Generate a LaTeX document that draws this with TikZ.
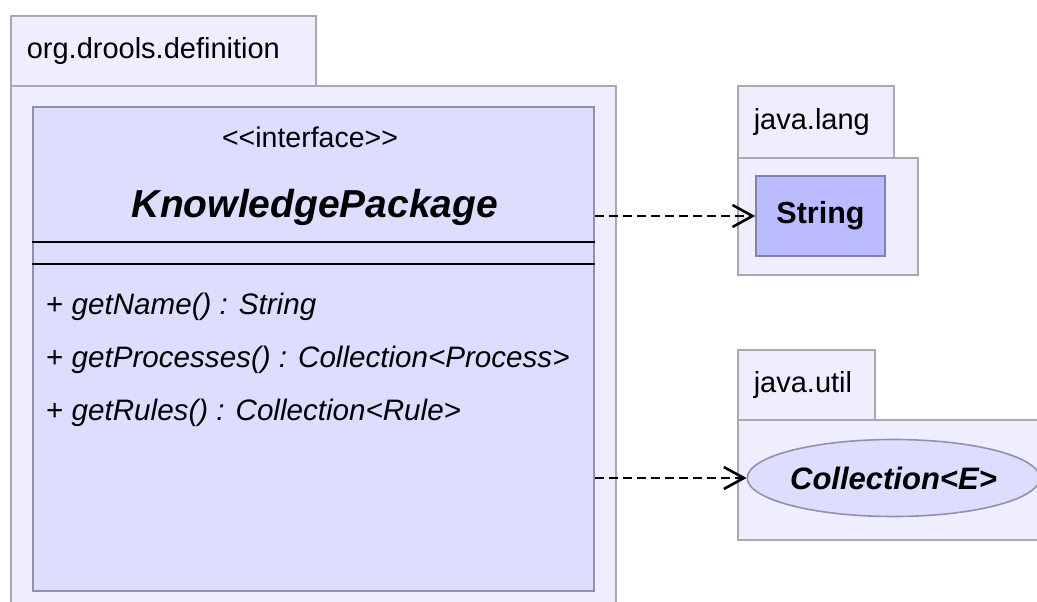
\documentclass[tikz,border=0pt]{standalone}
\usepackage{fontspec}
\setmainfont{Liberation Sans}
\usetikzlibrary{shapes.geometric}
\usetikzlibrary{arrows.meta}
\usepackage{xcolor}
\definecolor{pkgfill}{RGB}{238,238,255}
\definecolor{pkgline}{RGB}{168,168,178}
\definecolor{clsfill}{RGB}{221,221,255}
\definecolor{clsline}{RGB}{145,145,170}
\definecolor{strfill}{RGB}{187,187,255}
\definecolor{strline}{RGB}{128,128,180}

\begin{document}
\begin{tikzpicture}[x=1pt, y=-1pt]
        % ================= 样式定义 =================
        \tikzset{
            % 包: 标签页 + 主体
            pkgtab/.style={rectangle, draw=pkgline, line width=1.6pt, fill=pkgfill, anchor=north west, inner xsep=16pt, inner ysep=0pt, align=left, font=\fontsize{29}{33}\selectfont},
            pkgbody/.style={rectangle, draw=pkgline, line width=1.6pt, fill=pkgfill, anchor=north west, inner sep=0pt},
            % 接口类框
            clsbox/.style={rectangle, draw=clsline, line width=2pt, fill=clsfill, anchor=north west, inner sep=0pt},
            stereo/.style={font=\fontsize{28.5}{32}\selectfont, inner sep=0pt},
            clsname/.style={font=\fontsize{39}{45}\selectfont\bfseries\itshape, inner sep=0pt},
            method/.style={anchor=west, font=\fontsize{29.6}{34}\selectfont, inner sep=0pt},
            % 外部类型
            strbox/.style={rectangle, draw=strline, line width=1.6pt, fill=strfill, minimum width=129pt, minimum height=80pt, inner sep=0pt, font=\fontsize{30.5}{34}\selectfont\bfseries},
            collnode/.style={ellipse, draw=clsline, line width=1.6pt, fill=clsfill, minimum width=273pt, minimum height=77pt, inner sep=0pt, font=\fontsize{31}{35}\selectfont\bfseries\itshape},
            % 线
            sep_line/.style={line width=2.6pt, black},
            dep_edge/.style={line width=2.3pt, black, dash pattern=on 9pt off 5pt, -{Straight Barb[length=20pt, width=22pt, line width=2.6pt]}}
        }

        \useasboundingbox (0,0) rectangle (1037,602);
        \clip (0,0) rectangle (1037,602);

        % ================= 坐标定义 =================
        \coordinate (sepA) at (0,242);
        \coordinate (sepB) at (0,264);

        % ================= 包 org.drools.definition =================
        \node[pkgtab, minimum height=70pt, text width=273pt] (defTab) at (10,15) {org.drools.definition};
        \node[pkgbody, minimum width=605pt, minimum height=560pt] (defBody) at (10,85) {};

        % ================= 包 java.lang / java.util =================
        \node[pkgtab, minimum height=72pt, text width=124pt] (langTab) at (737,85) {java.lang};
        \node[pkgbody, minimum width=180pt, minimum height=117pt] (langBody) at (737,157) {};
        \node[pkgtab, minimum height=70pt, text width=105pt] (utilTab) at (737,349) {java.util};
        \node[pkgbody, minimum width=330pt, minimum height=120pt] (utilBody) at (737,419) {};

        % ================= 接口 KnowledgePackage =================
        \node[clsbox, minimum width=561pt, minimum height=484pt] (kp) at (32,106) {};
        \node[stereo] (kpStereo) at (310,137) {<\kern0pt<interface>\kern0pt>};
        \node[clsname] (kpName) at (315,207) {KnowledgePackage};
        \draw[sep_line] (kp.west |- sepA) -- (kp.east |- sepA);
        \draw[sep_line] (kp.west |- sepB) -- (kp.east |- sepB);

        % 方法列表
        \node[method] (mName) at (46,307) {+ \textit{getName() : String}};
        \node[method] (mProc) at (46,360) {+ \textit{getProcesses() : Collection<Process>}};
        \node[method] (mRules) at (46,413) {+ \textit{getRules() : Collection<Rule>}};

        % ================= 外部类型 =================
        \node[strbox] (str) at (820.5,216) {String};
        \node[collnode] (coll) at (893.5,478) {Collection<E>};

        % ================= 依赖 (虚线箭头) =================
        \draw[dep_edge] (kp.east |- str.west) -- (str.west);
        \draw[dep_edge] (kp.east |- coll.west) -- (coll.west);

    \end{tikzpicture}
\end{document}
